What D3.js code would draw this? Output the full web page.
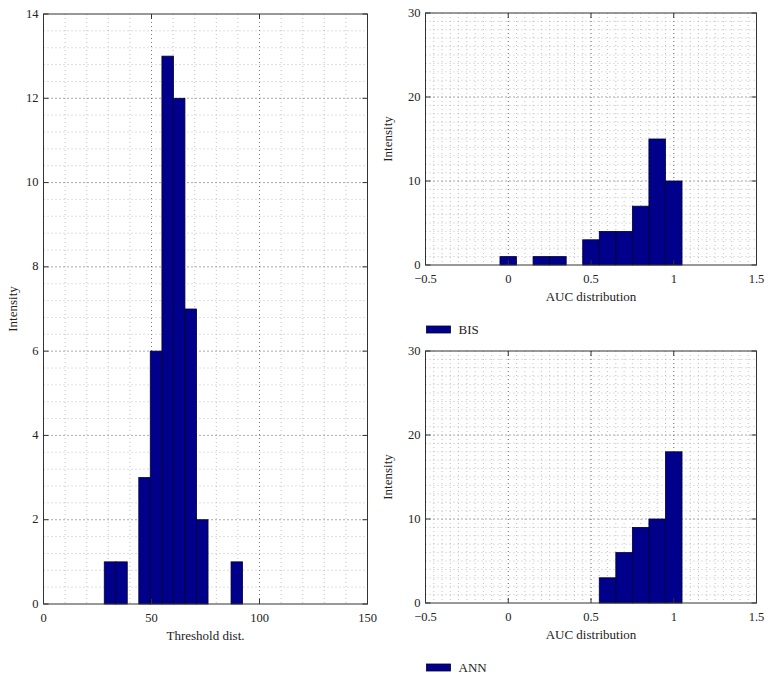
<!DOCTYPE html>
<html><head><meta charset="utf-8">
<script src="https://cdn.jsdelivr.net/npm/d3@7"></script>
<style>body{margin:0;background:#fff}svg{display:block}text{font-family:"Liberation Serif","DejaVu Serif",serif;fill:#222}</style>
</head><body><svg id="c" width="772" height="681"></svg>
<script>
// ---- data ----
const threshCenters = [30.8, 36.1, 41.4, 46.8, 52.1, 57.5, 62.8, 68.2, 73.5, 78.9, 84.2, 89.5];
const threshCounts  = [1, 1, 0, 3, 6, 13, 12, 7, 2, 0, 0, 1];
const threshBinWidth = 5.35;
const bisCenters = [0, 0.1, 0.2, 0.3, 0.4, 0.5, 0.6, 0.7, 0.8, 0.9, 1.0];
const bisCounts  = [1, 0, 1, 1, 0, 3, 4, 4, 7, 15, 10];
const annCenters = [0.6, 0.7, 0.8, 0.9, 1.0];
const annCounts  = [3, 6, 9, 10, 18];
const aucBinWidth = 0.1;
const threshXTicks = [0, 50, 100, 150];
const threshYTicks = [0, 2, 4, 6, 8, 10, 12, 14];
const aucXTicks = [-0.5, 0, 0.5, 1, 1.5];
const aucYTicks = [0, 10, 20, 30];
const legendLabels = ["BIS", "ANN"];

const svg = d3.select("#c");
const barFill = "#00008a", barStroke = "#000030";

function fmt(v){ return String(v).replace("-", "\u2212"); }

function panel(o){
  const x = d3.scaleLinear().domain(o.xDomain).range([o.left, o.right]);
  const y = d3.scaleLinear().domain(o.yDomain).range([o.bottom, o.top]);
  const g = svg.append("g");
  // minor grid
  const mg = g.append("g").attr("stroke", "#b0b0b0").attr("stroke-width", 0.8).attr("stroke-dasharray", "1,3");
  mg.selectAll(".vx").data(o.xMinor.filter(v => v > o.xDomain[0] && v < o.xDomain[1])).join("line")
    .attr("x1", d => x(d)).attr("x2", d => x(d)).attr("y1", o.top).attr("y2", o.bottom);
  mg.selectAll(".hy").data(o.yMinor.filter(v => v > o.yDomain[0] && v < o.yDomain[1])).join("line")
    .attr("y1", d => y(d)).attr("y2", d => y(d)).attr("x1", o.left).attr("x2", o.right);
  // major grid
  const Mg = g.append("g").attr("stroke", "#666").attr("stroke-width", 0.8).attr("stroke-dasharray", "1,3");
  Mg.selectAll(".vx").data(o.xTicks.filter(v => v > o.xDomain[0] && v < o.xDomain[1])).join("line")
    .attr("x1", d => x(d)).attr("x2", d => x(d)).attr("y1", o.top).attr("y2", o.bottom);
  Mg.selectAll(".hy").data(o.yTicks.filter(v => v > o.yDomain[0] && v < o.yDomain[1])).join("line")
    .attr("y1", d => y(d)).attr("y2", d => y(d)).attr("x1", o.left).attr("x2", o.right);
  // bars
  const data = o.centers.map((c, i) => ({c, v: o.counts[i]}));
  g.append("g").selectAll("rect").data(data).join("rect")
    .attr("x", d => x(d.c - o.bw/2)).attr("width", d => x(d.c + o.bw/2) - x(d.c - o.bw/2))
    .attr("y", d => y(d.v)).attr("height", d => y(0) - y(d.v))
    .attr("fill", barFill).attr("stroke", barStroke).attr("stroke-width", 0.8);
  // axes (box with inward ticks)
  const tl = 5;
  const ax = g.append("g").attr("stroke", "#333").attr("stroke-width", 1);
  ax.append("rect").attr("x", o.left).attr("y", o.top).attr("width", o.right - o.left).attr("height", o.bottom - o.top).attr("fill", "none");
  o.xTicks.forEach(v => {
    ax.append("line").attr("x1", x(v)).attr("x2", x(v)).attr("y1", o.bottom).attr("y2", o.bottom - tl);
    ax.append("line").attr("x1", x(v)).attr("x2", x(v)).attr("y1", o.top).attr("y2", o.top + tl);
  });
  o.yTicks.forEach(v => {
    ax.append("line").attr("y1", y(v)).attr("y2", y(v)).attr("x1", o.left).attr("x2", o.left + tl);
    ax.append("line").attr("y1", y(v)).attr("y2", y(v)).attr("x1", o.right).attr("x2", o.right - tl);
  });
  g.selectAll(".xt").data(o.xTicks).join("text")
    .attr("x", d => x(d)).attr("y", o.bottom + 17.5).attr("text-anchor", "middle").attr("font-size", 12.5).text(fmt);
  g.selectAll(".yt").data(o.yTicks).join("text")
    .attr("x", o.left - 5).attr("y", d => y(d) + 3.5).attr("text-anchor", "end").attr("font-size", 12.5).text(fmt);
  g.append("text").attr("x", (o.left + o.right)/2).attr("y", o.bottom + 36).attr("text-anchor", "middle").attr("font-size", 13).text(o.xLabel);
  g.append("text").attr("transform", `translate(${o.ylabX},${(o.top + o.bottom)/2}) rotate(-90)`).attr("text-anchor", "middle").attr("font-size", 13).text(o.yLabel);
  if (o.legend) {
    g.append("rect").attr("x", o.left + 1).attr("y", o.legendY - 3.5).attr("width", 24).attr("height", 7)
      .attr("fill", barFill).attr("stroke", barStroke).attr("stroke-width", 0.8);
    g.append("text").attr("x", o.left + 33).attr("y", o.legendY + 4.5).attr("font-size", 13).text(o.legend);
  }
}

panel({left: 43.5, right: 367.5, top: 14, bottom: 604, xDomain: [0, 150], yDomain: [0, 14],
  xTicks: threshXTicks, yTicks: threshYTicks, xMinor: d3.range(0, 151, 10), yMinor: d3.range(0, 14.01, 0.4),
  centers: threshCenters, counts: threshCounts, bw: threshBinWidth,
  xLabel: "Threshold dist.", yLabel: "Intensity", ylabX: 17});

panel({left: 425.5, right: 756.5, top: 13, bottom: 265, xDomain: [-0.5, 1.5], yDomain: [0, 30],
  xTicks: aucXTicks, yTicks: aucYTicks, xMinor: d3.range(-0.5, 1.501, 0.05), yMinor: d3.range(0, 30.01, 1),
  centers: bisCenters, counts: bisCounts, bw: aucBinWidth,
  xLabel: "AUC distribution", yLabel: "Intensity", ylabX: 392, legend: legendLabels[0], legendY: 329.5});

panel({left: 425.5, right: 756.5, top: 351, bottom: 603, xDomain: [-0.5, 1.5], yDomain: [0, 30],
  xTicks: aucXTicks, yTicks: aucYTicks, xMinor: d3.range(-0.5, 1.501, 0.05), yMinor: d3.range(0, 30.01, 1),
  centers: annCenters, counts: annCounts, bw: aucBinWidth,
  xLabel: "AUC distribution", yLabel: "Intensity", ylabX: 392, legend: legendLabels[1], legendY: 667.5});
</script></body></html>
